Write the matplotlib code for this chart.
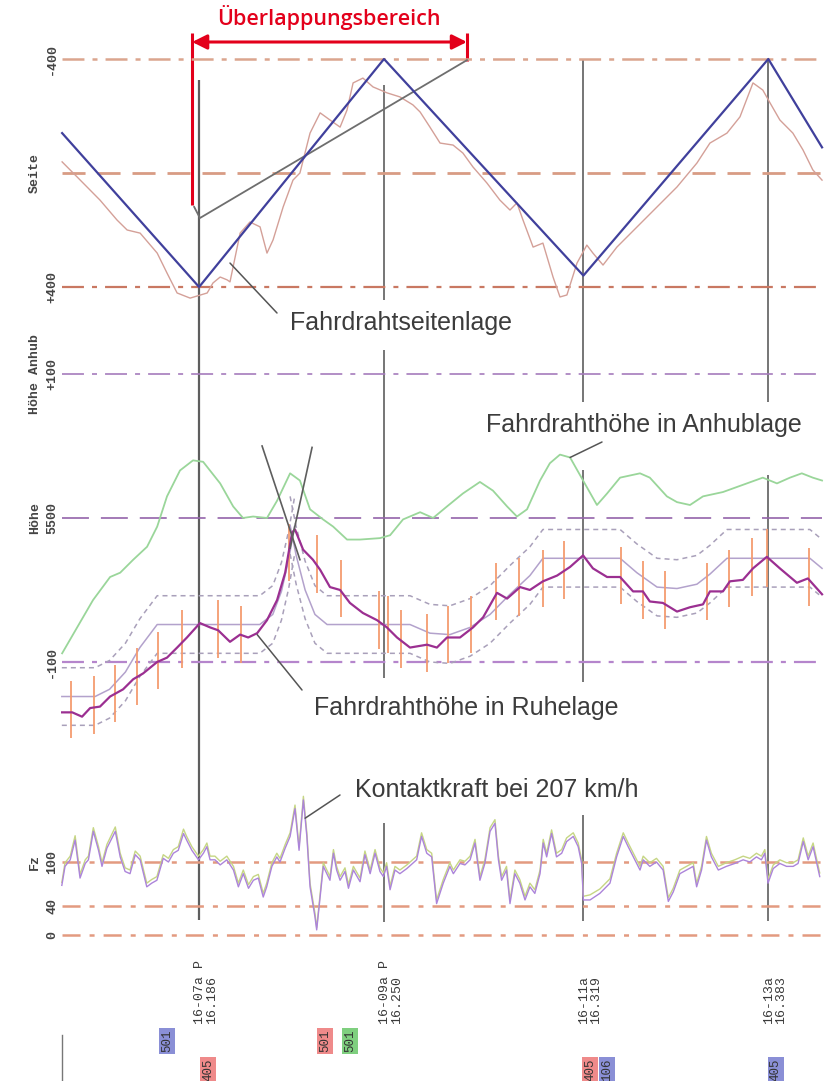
import matplotlib
matplotlib.use("Agg")
import matplotlib.pyplot as plt
from matplotlib import transforms

# ---------------------------------------------------------------- data
# masts (km) and their labels
MAST_KM = [16.186, 16.250, 16.319, 16.383]
MAST_NAMES = ["16-07a P", "16-09a P", "16-11a", "16-13a"]
OVERLAP_M = (16183.6, 16278.7)

# lateral position ("Seite", mm): planned stagger and measured
STAGGER_X = [16138.6, 16186.0, 16250.0, 16319.0, 16383.0, 16401.6]
STAGGER_V = [-140, 400, -400, 360, -400, -90]
WIRE2_X = [16184.3, 16186.3, 16278.7]
WIRE2_V = [119, 158, -396]
SEITE_X = [16138.6, 16143.8, 16151.7, 16157.6, 16161.1, 16165.6, 16171.5, 16174.9, 16178.4, 16182.9,
           16188.8, 16190.8, 16193.3, 16195.7, 16196.7, 16200.2, 16203.6, 16207.1, 16209.5, 16211.6,
           16215.1, 16218.5, 16220.9, 16224.4, 16227.9, 16231.3, 16234.8, 16237.2, 16239.3, 16242.7,
           16246.2, 16251.1, 16255.5, 16260.0, 16262.5, 16265.9, 16269.4, 16273.9, 16277.3, 16280.8,
           16285.6, 16290.1, 16293.6, 16296.0, 16298.1, 16301.6, 16305.0, 16308.5, 16310.9, 16313.3,
           16316.8, 16320.2, 16322.3, 16325.8, 16330.6, 16337.5, 16344.5, 16351.4, 16358.3, 16362.8,
           16368.7, 16373.2, 16377.7, 16381.1, 16383.6, 16387.0, 16391.5, 16395.0, 16398.4, 16401.6]
SEITE_V = [-39, 14, 95, 165, 200, 211, 281, 351, 421, 439,
           421, 386, 365, 375, 382, 211, 172, 189, 281, 235,
           119, 25, 0, -140, -211, -186, -161, -221, -316, -333,
           -302, -281, -267, -239, -214, -161, -105, -98, -70, -21,
           35, 95, 130, 105, 165, 260, 246, 365, 435, 428,
           316, 253, 281, 323, 260, 190, 119, 49, -35, -105,
           -140, -197, -316, -291, -246, -186, -140, -81, -11, 25]

# contact wire height (mm)
ANHUB_X = [16138.6, 16143.8, 16149.3, 16155.2, 16158.7, 16163.2, 16168.0, 16171.5, 16174.9, 16179.4,
           16183.9, 16187.4, 16193.3, 16197.8, 16201.2, 16204.7, 16209.5, 16213.0, 16217.5, 16220.9,
           16224.4, 16228.9, 16232.4, 16237.2, 16241.7, 16248.6, 16252.1, 16256.6, 16262.5, 16267.0,
           16271.8, 16277.3, 16283.2, 16287.7, 16292.6, 16296.0, 16299.5, 16304.0, 16307.4, 16310.9,
           16314.4, 16318.9, 16323.7, 16327.2, 16331.7, 16338.6, 16342.0, 16347.9, 16351.4, 16355.9,
           16360.4, 16367.3, 16374.2, 16381.1, 16386.0, 16390.5, 16394.6, 16398.4, 16401.6]
ANHUB_H = [5406, 5424, 5443, 5459, 5462, 5471, 5480, 5494, 5515, 5533,
           5540, 5539, 5524, 5508, 5500, 5501, 5500, 5512, 5531, 5526,
           5506, 5499, 5494, 5485, 5485, 5486, 5488, 5499, 5504, 5500,
           5508, 5517, 5525, 5519, 5508, 5501, 5506, 5526, 5538, 5544,
           5542, 5526, 5509, 5517, 5528, 5531, 5528, 5515, 5511, 5509,
           5515, 5518, 5523, 5528, 5524, 5528, 5531, 5528, 5526]
RUHE_X = [16138.6, 16142.1, 16145.5, 16148.3, 16151.7, 16155.2, 16159.7, 16163.2, 16166.6, 16171.5,
          16174.9, 16178.4, 16181.8, 16186.3, 16189.8, 16192.6, 16196.7, 16200.2, 16203.0, 16206.1,
          16209.5, 16213.0, 16215.8, 16218.2, 16219.2, 16222.0, 16225.4, 16227.9, 16231.3, 16234.8,
          16238.2, 16242.7, 16247.6, 16251.0, 16254.5, 16259.0, 16264.9, 16268.3, 16271.8, 16276.3,
          16280.8, 16284.3, 16289.1, 16292.6, 16297.1, 16300.5, 16305.0, 16309.9, 16314.4, 16318.9,
          16322.3, 16327.2, 16331.7, 16336.2, 16339.6, 16342.0, 16346.5, 16351.4, 16355.9, 16360.4,
          16362.8, 16367.3, 16369.7, 16374.2, 16377.7, 16382.5, 16387.0, 16392.9, 16396.7, 16401.6]
RUHE_H = [5365, 5365, 5362, 5368, 5369, 5376, 5381, 5388, 5392, 5400,
          5403, 5410, 5417, 5427, 5424, 5422, 5414, 5419, 5417, 5420,
          5429, 5443, 5462, 5490, 5492, 5478, 5471, 5464, 5452, 5450,
          5441, 5434, 5429, 5424, 5417, 5410, 5412, 5410, 5417, 5417,
          5424, 5431, 5448, 5444, 5452, 5450, 5456, 5460, 5466, 5474,
          5465, 5459, 5459, 5449, 5449, 5442, 5441, 5435, 5438, 5440,
          5449, 5449, 5456, 5457, 5465, 5473, 5465, 5455, 5458, 5447]
# nominal heights of the two overlapping wires, tolerance band +/- TOL
NOM_A_X = [16138.5, 16150.0, 16155.0, 16160.5, 16165.5, 16171.5, 16207.0, 16211.5, 16214.5, 16217.0, 16219.0]
NOM_A_H = [5376, 5376, 5381, 5393, 5410, 5426, 5426, 5433, 5449, 5471, 5494]
NOM_B_X = [16217.5, 16219.6, 16222.7, 16226.1, 16230.3, 16259.0, 16265.9, 16272.8, 16279.8, 16286.7,
           16293.6, 16300.5, 16305.0, 16331.7, 16337.5, 16344.5, 16351.4, 16358.3, 16362.8, 16368.7,
           16397.4, 16401.6]
NOM_B_H = [5495, 5474, 5450, 5433, 5426, 5426, 5420, 5419, 5424, 5433,
           5447, 5460, 5472, 5472, 5462, 5452, 5451, 5454, 5461, 5472,
           5472, 5465]
TOL = 20
BAR_X = [16141.7, 16149.7, 16156.9, 16164.5, 16171.8, 16180.1, 16192.6, 16200.5, 16217.1, 16226.8,
         16235.1, 16248.3, 16251.4, 16255.9, 16264.9, 16272.2, 16280.1, 16288.8, 16296.7, 16305.0,
         16312.3, 16332.0, 16339.6, 16347.2, 16361.8, 16369.4, 16377.3, 16382.5, 16397.1]
BAR_H = [5367, 5370, 5378, 5390, 5401, 5416, 5423, 5419, 5476, 5468,
         5451, 5429, 5426, 5416, 5413, 5419, 5426, 5449, 5452, 5458,
         5464, 5460, 5450, 5443, 5449, 5458, 5466, 5472, 5459]
BAR_HALF = 20
CROSS_A = ([16207.8, 16220.9], [5550, 5471])
CROSS_B = ([16225.1, 16217.5], [5549, 5479])

# contact force (N), two pantograph traces
FZ_X = [16138.5, 16139.6, 16141.4, 16143.1, 16144.8, 16146.6, 16147.7, 16149.4, 16151.2, 16152.4,
        16154.1, 16157.0, 16158.7, 16160.4, 16162.1, 16163.9, 16165.6, 16167.9, 16169.6, 16171.4,
        16173.6, 16175.4, 16177.1, 16178.8, 16180.6, 16181.7, 16183.5, 16185.8, 16187.5, 16188.7,
        16189.8, 16191.5, 16193.3, 16195.6, 16197.9, 16199.6, 16201.3, 16203.1, 16204.8, 16206.5,
        16208.2, 16209.4, 16211.2, 16212.9, 16214.0, 16215.8, 16217.5, 16219.2, 16220.6, 16222.1,
        16223.3, 16224.4, 16226.1, 16226.7, 16227.9, 16229.0, 16231.3, 16232.5, 16233.6, 16234.8,
        16236.5, 16237.7, 16239.4, 16241.7, 16243.4, 16245.2, 16246.9, 16248.6, 16249.8, 16250.9,
        16252.1, 16253.8, 16255.5, 16257.9,
        16261.3, 16263.0, 16264.8, 16266.5, 16268.2, 16270.5, 16272.8, 16274.0, 16276.3, 16278.0,
        16279.8, 16281.5, 16283.2, 16284.9, 16286.7, 16288.4, 16289.6, 16290.7, 16292.4, 16293.6,
        16295.3, 16297.0, 16298.8, 16300.5, 16302.2, 16304.0, 16305.1, 16306.3, 16308.0, 16309.7,
        16311.5, 16313.2, 16315.5, 16317.2, 16318.4, 16319.0, 16321.3, 16324.7, 16328.2, 16330.5,
        16332.8, 16334.5, 16336.3, 16338.6, 16339.7, 16342.0, 16344.3, 16346.6, 16348.4, 16350.1,
        16352.4, 16354.7, 16357.0, 16358.2, 16359.9, 16361.6, 16363.3, 16365.7, 16368.5, 16371.4,
        16374.3, 16376.6, 16378.9, 16380.6, 16381.8, 16382.9, 16384.7, 16387.0, 16389.3, 16391.6,
        16393.3, 16395.1, 16396.8, 16398.5, 16400.8]
FZ_1 = [68, 94, 103, 130, 78, 98, 103, 142, 116, 94, 119, 142, 107, 87, 84, 110, 103, 66, 71, 75,
        105, 100, 112, 116, 139, 130, 116, 103, 112, 121, 103, 103, 96, 103, 89, 66, 84, 64, 75, 78,
        52, 66, 94, 107, 100, 119, 135, 173, 116, 185, 135, 66, 25, 7, 52, 94, 75, 112, 89, 75,
        87, 64, 89, 73, 110, 84, 112, 87, 80, 94, 62, 89, 84, 91,
        103, 135, 112, 107, 43, 71, 94, 84, 98, 96, 103, 126, 75, 98, 142, 153, 103, 75, 89, 43,
        84, 71, 48, 66, 57, 84, 126, 107, 139, 107, 112, 128, 135, 121, 98, 48, 48, 57, 71, 107,
        135, 121, 107, 89, 103, 94, 100, 89, 46, 59, 84, 89, 94, 66, 89, 130, 107, 89, 94, 98,
        103, 100, 107, 103, 112, 71, 91, 98, 94, 94, 98, 128, 103, 121, 80]
FZ_2 = [72, 99, 108, 136, 83, 103, 108, 147, 121, 99, 124, 148, 112, 92, 89, 115, 108, 71, 76, 80,
        110, 105, 117, 121, 145, 135, 121, 108, 117, 126, 108, 108, 101, 108, 94, 71, 89, 69, 80, 83,
        57, 71, 99, 112, 105, 124, 140, 178, 121, 190, 140, 71, 30, 10, 57, 99, 80, 117, 94, 80,
        92, 69, 94, 78, 115, 89, 117, 92, 85, 99, 67, 94, 89, 96,
        108, 140, 117, 112, 48, 76, 99, 89, 103, 101, 108, 131, 80, 103, 147, 158, 108, 80, 94, 48,
        89, 76, 53, 71, 62, 89, 131, 112, 144, 112, 117, 133, 140, 126, 103, 53, 55, 63, 77, 112,
        140, 126, 112, 94, 108, 99, 105, 94, 51, 64, 89, 94, 99, 71, 94, 135, 112, 94, 99, 103,
        108, 105, 112, 108, 117, 76, 96, 103, 99, 99, 103, 133, 108, 126, 85]

# equipment tags below the masts: (position m, row, text, colour)
TAGS = [(16174.9, 0, "501", "#8a8fd6"), (16189.1, 1, "405", "#ef8a8a"),
        (16229.6, 0, "501", "#ef8a8a"), (16238.2, 0, "501", "#7fcf7f"),
        (16321.3, 1, "405", "#ef8a8a"), (16327.2, 1, "106", "#8a8fd6"),
        (16385.6, 1, "405", "#8a8fd6")]

# ---------------------------------------------------------------- figure
plt.rcParams["lines.scale_dashes"] = False
W, H = 831, 1081
fig = plt.figure(figsize=(W / 100, H / 100), dpi=100)
fig.patch.set_facecolor("white")
X0, X1 = 16117.1, 16404.7
XA, XB = 16138.5, 16401.6


def layer(ylim, z):
    ax = fig.add_axes([0, 0, 1, 1])
    ax.set_xlim(X0, X1)
    ax.set_ylim(*ylim)
    ax.set_axis_off()
    ax.set_zorder(z)
    return ax


ov = layer((H, 0), 0)            # pixel rows from the top, for layout items
ax_s = layer((3186, -607), 1)    # Seite
ax_h = layer((5109.0, 5859.7), 2)  # Hoehe
ax_f = layer((-200, 1280.8), 3)  # Fz

MONO = "Liberation Mono"
SANS = "Liberation Sans"
DASHDOT = (0, (15.8, 5.8, 3.6, 5.8))


def hline(ax, y, color, dashes, lw):
    ax.plot([XA, XB], [y, y], color=color, lw=lw, linestyle=dashes)


def ylabels(ax, y, tick, name=None):
    tr = transforms.blended_transform_factory(fig.transFigure, ax.transData)
    ax.text(52 / W, y, tick, transform=tr, rotation=90, ha="center", va="center",
            family=MONO, weight="bold", fontsize=9.5, color="#444444")
    if name:
        ax.text(35 / W, y, name, transform=tr, rotation=90, ha="center", va="center",
                family=MONO, weight="bold", fontsize=9.5, color="#444444")


# mast lines (pixel extents of each drawn segment)
MAST_SEGS = [[(80, 920)],
             [(85, 300), (350, 678), (823, 922)],
             [(59, 402), (470, 682), (815, 921)],
             [(59, 402), (475, 921)]]
for km, segs, lw in zip(MAST_KM, MAST_SEGS, [1.6, 1.2, 1.2, 1.2]):
    for y0, y1 in segs:
        ov.plot([km * 1000] * 2, [y0, y1], color="#5e5e5e", lw=lw, solid_capstyle="butt")

# --- Seite
hline(ax_s, -400, "#dba58e", DASHDOT, 1.8)
hline(ax_s, 0, "#d89c84", (0, (16.6, 8.6)), 2.0)
hline(ax_s, 400, "#c97862", DASHDOT, 1.6)
ax_s.plot(SEITE_X, SEITE_V, color="#d4a098", lw=1.0)
ax_s.plot(WIRE2_X, WIRE2_V, color="#6e6e6e", lw=1.3)
ax_s.plot(STAGGER_X, STAGGER_V, color="#40409c", lw=1.6)
ylabels(ax_s, -400, "-400")
ylabels(ax_s, 400, "+400")
ylabels(ax_s, 0, "", "Seite")

# --- Hoehe
hline(ax_h, 5600, "#a57cbc", DASHDOT, 1.2)
hline(ax_h, 5500, "#9464aa", (0, (19.4, 8.6)), 1.2)
hline(ax_h, 5400, "#b585cc", DASHDOT, 1.6)
ax_h.plot(ANHUB_X, ANHUB_H, color="#9ad69a", lw=1.3)
for nx, nh in [(NOM_A_X, NOM_A_H), (NOM_B_X, NOM_B_H)]:
    ax_h.plot(nx, nh, color="#b3a2cc", lw=1.1)
    ax_h.plot(nx, [h + TOL for h in nh], color="#a9a0ba", lw=1.1, linestyle=(0, (3.6, 2.9)))
    ax_h.plot(nx, [h - TOL for h in nh], color="#a9a0ba", lw=1.1, linestyle=(0, (3.6, 2.9)))
ax_h.vlines(BAR_X, [h - BAR_HALF for h in BAR_H], [h + BAR_HALF for h in BAR_H],
            color="#f49c70", lw=1.3)
ax_h.plot(RUHE_X, RUHE_H, color="#9b2f91", lw=1.6)
ax_h.plot(*CROSS_A, color="#5e5e5e", lw=1.2)
ax_h.plot(*CROSS_B, color="#5e5e5e", lw=1.2)
ylabels(ax_h, 5600, "+100", "Höhe Anhub")
ylabels(ax_h, 5500, "5500", "Höhe")
ylabels(ax_h, 5400, "-100")

# --- Fz
for f in (100, 40, 0):
    hline(ax_f, f, "#e39a80", (0, (13.0, 6.5, 3.6, 6.5)), 1.8)
ax_f.plot(FZ_X, FZ_2, color="#c6d684", lw=1.0)
ax_f.plot(FZ_X, FZ_1, color="#ac84da", lw=1.0)
ylabels(ax_f, 100, "100", "Fz")
ylabels(ax_f, 40, "40")
ylabels(ax_f, 0, "0")

# --- annotations
TXT = dict(ha="center", va="center", fontsize=18, family=SANS, color="#3c3c3c")
fig.text(401 / W, 1 - 323 / H, "Fahrdrahtseitenlage", **TXT)
fig.text(644 / W, 1 - 425 / H, "Fahrdrahthöhe in Anhublage", **TXT)
fig.text(466 / W, 1 - 708 / H, "Fahrdrahthöhe in Ruhelage", **TXT)
fig.text(497 / W, 1 - 790 / H, "Kontaktkraft bei 207 km/h", **TXT)
LEAD = dict(arrowstyle="-", color="#555555", lw=1.1, shrinkA=0, shrinkB=0)
for ax, xy, start in [(ax_s, (16196.7, 316), (277, 313)),
                      (ax_h, (16314.4, 5542), (602, 442)),
                      (ax_h, (16206.1, 5419), (302, 690)),
                      (ax_f, (16222.7, 160), (340, 795))]:
    ax.annotate("", xy=xy, xytext=(start[0], H - start[1]), textcoords="figure pixels",
                arrowprops=LEAD)

# --- overlap marker
RED = "#e3001b"
ov.annotate("", xy=(OVERLAP_M[0], 42), xytext=(OVERLAP_M[1], 42),
            arrowprops=dict(arrowstyle="<|-|>,head_length=0.8,head_width=0.4", color=RED,
                            lw=2.2, shrinkA=0, shrinkB=0, mutation_scale=11))
ov.plot([OVERLAP_M[0]] * 2, [33, 205], color=RED, lw=2.2, solid_capstyle="butt")
ov.plot([OVERLAP_M[1]] * 2, [33, 61], color=RED, lw=2.2, solid_capstyle="butt")
fig.text(329 / W, 1 - 17 / H, "Überlappungsbereich", ha="center", va="center",
         fontsize=15.5, family="Open Sans", weight="semibold", color=RED)

# --- mast labels and tags
lab_tr = transforms.offset_copy(ov.transData, fig=fig, x=4.7, y=0, units="points")
for km, name in zip(MAST_KM, MAST_NAMES):
    ov.text(km * 1000, 1024, f"{name}\n{km:.3f}", transform=lab_tr, rotation=90,
            ha="center", va="bottom", multialignment="left", linespacing=1.0,
            family=MONO, fontsize=9.5, color="#3a3a3a")
for xm, row, txt, col in TAGS:
    ov.text(xm, [1041, 1070][row], txt, rotation=90, ha="center", va="center",
            family=MONO, fontsize=9, color="#333333",
            bbox=dict(boxstyle="square,pad=0.15", fc=col, ec="none"))
ov.plot([XA, XA], [1035, H], color="#777777", lw=1.0)

fig.savefig("out.png", dpi=100, facecolor="white")
